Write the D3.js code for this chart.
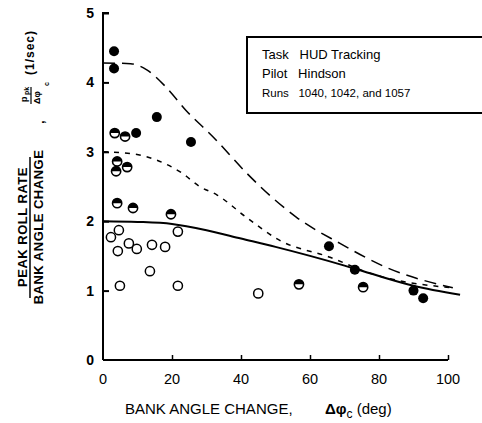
<!DOCTYPE html>
<html>
<head>
<meta charset="utf-8">
<script src="https://cdn.jsdelivr.net/npm/d3@7"></script>
<style>
  body { margin: 0; background: #fff; }
  text { font-family: "Liberation Sans", Arial, sans-serif; fill: #000; }
</style>
</head>
<body>
<svg width="482" height="423"></svg>
<script>
// data
const xTicks = [0, 20, 40, 60, 80, 100];
const yTicks = [0, 1, 2, 3, 4, 5];

const filledPts = [
  [3.2, 4.45], [3.2, 4.2], [15.6, 3.5], [9.6, 3.27], [25.5, 3.14],
  [65.5, 1.64], [73, 1.3], [90, 1.0], [92.8, 0.89]
];
const halfPts = [
  [3.4, 3.27], [6.4, 3.22], [4.1, 2.86], [3.8, 2.72], [7, 2.78],
  [4.1, 2.26], [8.7, 2.19], [19.7, 2.1], [56.8, 1.09], [75.4, 1.05]
];
const openPts = [
  [2.3, 1.77], [4.6, 1.87], [4.3, 1.57], [7.5, 1.68], [9.8, 1.6],
  [14.2, 1.66], [18, 1.63], [13.6, 1.28], [4.9, 1.07], [21.7, 1.07],
  [21.7, 1.85], [45, 0.96]
];

const solidLine = [
  [0, 2.0], [10, 1.99], [20, 1.96], [30, 1.87], [40, 1.75], [50, 1.63],
  [60, 1.5], [70, 1.36], [80, 1.21], [90, 1.07], [103.5, 0.94]
];
const longDash = [
  [0, 4.28], [8, 4.27], [12.7, 4.18], [18.5, 3.92], [24, 3.6], [32, 3.21],
  [41.7, 2.69], [49.3, 2.33], [56, 2.06], [68.7, 1.68], [82.3, 1.33], [101.4, 1.04]
];
const shortDash = [
  [0, 3.0], [8.7, 2.97], [15.6, 2.88], [23, 2.69], [28, 2.5], [33, 2.38],
  [41.7, 2.05], [51, 1.73], [65.8, 1.48], [77.4, 1.25], [101, 1.04]
];

const legendLines = ["Task   HUD Tracking", "Pilot   Hindson", "Runs   1040, 1042, and 1057"];

const svg = d3.select("svg");
const x = d3.scaleLinear().domain([0, 100]).range([103, 448]);
const y = d3.scaleLinear().domain([0, 5]).range([360, 13]);

// axes
const yAxis = svg.append("g").attr("transform", `translate(${x(0)},0)`)
  .call(d3.axisRight(y).tickValues(yTicks).tickSize(6).tickFormat(""));
yAxis.select(".domain").attr("d", `M6,${y(5)}H0V${y(0)}`).attr("stroke-width", 2);
yAxis.selectAll(".tick line").attr("stroke-width", 2);
yAxis.selectAll(".tick").filter(d => d === 0).remove();

const xAxis = svg.append("g").attr("transform", `translate(0,${y(0)})`)
  .call(d3.axisTop(x).tickValues(xTicks.slice(1)).tickSize(5).tickFormat(""));
xAxis.select(".domain").attr("d", `M${x(0)},0H${x(100)}`).attr("stroke-width", 2);
xAxis.selectAll(".tick line").attr("stroke-width", 1.5);

svg.append("g").selectAll("text").data(yTicks).join("text")
  .attr("x", 94).attr("y", d => y(d) + 5)
  .attr("text-anchor", "end").attr("font-size", 14).attr("font-weight", "bold")
  .text(d => d);

svg.append("g").selectAll("text").data(xTicks).join("text")
  .attr("x", d => x(d)).attr("y", 384)
  .attr("text-anchor", "middle").attr("font-size", 14.5)
  .text(d => d);

// curves
const line = d3.line().x(d => x(d[0])).y(d => y(d[1])).curve(d3.curveMonotoneX);
const lineG = svg.append("g").attr("fill", "none").attr("stroke", "#000");
lineG.append("path").attr("d", line(solidLine)).attr("stroke-width", 2);
lineG.append("path").attr("d", line(longDash)).attr("stroke-width", 1.5).attr("stroke-dasharray", "12,7");
lineG.append("path").attr("d", line(shortDash)).attr("stroke-width", 1.5).attr("stroke-dasharray", "5,6");

// points
const r = 4.6;
svg.append("g").selectAll("circle").data(openPts).join("circle")
  .attr("cx", d => x(d[0])).attr("cy", d => y(d[1])).attr("r", r)
  .attr("fill", "#fff").attr("stroke", "#000").attr("stroke-width", 1.5);

const halfArc = d3.arc().innerRadius(0).outerRadius(r).startAngle(-Math.PI / 2).endAngle(Math.PI / 2);
const hg = svg.append("g").selectAll("g").data(halfPts).join("g")
  .attr("transform", d => `translate(${x(d[0])},${y(d[1])})`);
hg.append("circle").attr("r", r).attr("fill", "#fff").attr("stroke", "#000").attr("stroke-width", 1.6);
hg.append("path").attr("d", halfArc).attr("fill", "#000");

svg.append("g").selectAll("circle").data(filledPts).join("circle")
  .attr("cx", d => x(d[0])).attr("cy", d => y(d[1])).attr("r", 5)
  .attr("fill", "#000");

// legend box
svg.append("rect").attr("x", 247).attr("y", 37).attr("width", 240).attr("height", 76)
  .attr("fill", "#fff").attr("stroke", "#000").attr("stroke-width", 2);
svg.append("g").selectAll("text").data(legendLines).join("text")
  .attr("x", 262).attr("y", (d, i) => 59 + i * 19)
  .attr("font-size", (d, i) => i === 2 ? 11.5 : 13)
  .style("white-space", "pre")
  .text(d => d);

// x label
svg.append("text").attr("x", 125).attr("y", 414).attr("font-size", 15)
  .text("BANK ANGLE CHANGE,");
const xl = svg.append("text").attr("x", 325).attr("y", 414).attr("font-size", 15);
xl.append("tspan").attr("font-weight", "bold").text("Δφ");
xl.append("tspan").attr("font-size", 12).attr("dy", 4).text("c");
xl.append("tspan").attr("dy", -4).text(" (deg)");

// y label, rotated
const yl = svg.append("g").attr("transform", "rotate(-90)");
yl.append("text").attr("x", -227).attr("y", 27).attr("text-anchor", "middle")
  .attr("font-size", 13).attr("font-weight", "bold").attr("letter-spacing", 0.5).text("PEAK ROLL RATE");
yl.append("line").attr("x1", -298).attr("x2", -157).attr("y1", 30).attr("y2", 30)
  .attr("stroke", "#000").attr("stroke-width", 1.5);
yl.append("text").attr("x", -227).attr("y", 43).attr("text-anchor", "middle")
  .attr("font-size", 13).attr("font-weight", "bold").attr("letter-spacing", 0.5).text("BANK ANGLE CHANGE");
yl.append("text").attr("x", -124).attr("y", 44).attr("font-size", 13).attr("font-weight", "bold").text(",");
yl.append("text").attr("x", -102).attr("y", 27).attr("font-size", 9).attr("font-weight", "bold").text("p");
yl.append("text").attr("x", -95).attr("y", 29).attr("font-size", 7).attr("font-weight", "bold").text("pk");
yl.append("line").attr("x1", -104).attr("x2", -87).attr("y1", 31).attr("y2", 31).attr("stroke", "#000").attr("stroke-width", 1.2);
yl.append("text").attr("x", -104).attr("y", 40).attr("font-size", 9).attr("font-weight", "bold").text("Δφ");
yl.append("text").attr("x", -86).attr("y", 49).attr("font-size", 7).attr("font-weight", "bold").text("c");
yl.append("text").attr("x", -75).attr("y", 34).attr("font-size", 12).attr("font-weight", "bold")
  .attr("letter-spacing", 1).text("(1/sec)");
</script>
</body>
</html>
